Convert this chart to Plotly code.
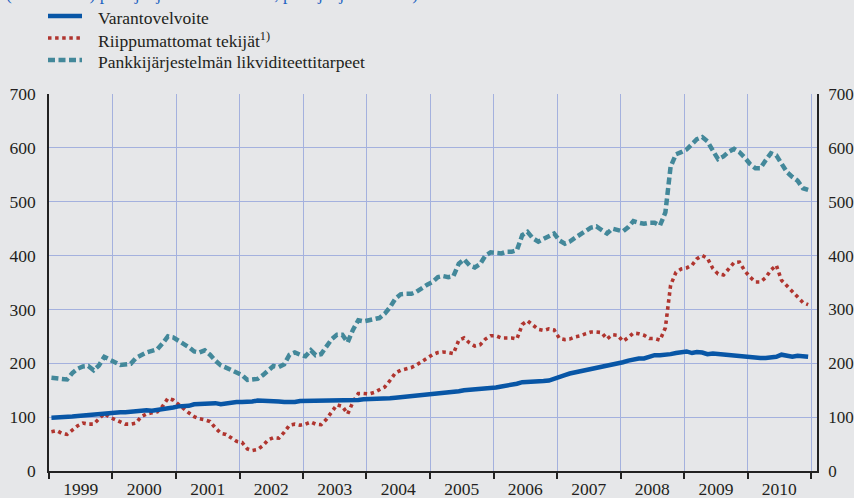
import pandas as pd
import plotly.graph_objects as go

# Monthly observations 1999-01 ... 2010-12 (EUR bn)
months = pd.date_range("1999-01-01", periods=144, freq="MS") + pd.Timedelta(days=14)

varantovelvoite = [
    99, 99, 100, 100, 101, 102, 103, 104, 104, 105, 106, 107,
    109, 109, 109, 110, 113, 114, 113, 112, 113, 114, 115, 118,
    120, 120, 121, 124, 125, 126, 127, 126, 124, 126, 127, 128,
    128, 128, 129, 131, 131, 130, 130, 129, 128, 127, 128, 130,
    130, 130, 130, 130, 130, 131, 131, 131, 132, 132, 132, 133,
    133, 133, 134, 135, 135, 136, 137, 138, 139, 139, 140, 141,
    141, 142, 143, 145, 146, 148, 150, 151, 151, 151, 152, 154,
    155, 157, 158, 160, 162, 165, 166, 167, 167, 167, 168, 172,
    175, 178, 181, 183, 185, 188, 190, 191, 193, 194, 197, 200,
    202, 205, 207, 209, 209, 212, 215, 215, 215, 217, 219, 221,
    222, 219, 221, 220, 217, 218, 217, 216, 214, 213, 212, 211,
    210, 210, 210, 210, 210, 212, 216, 213, 212, 214, 213, 212,
]

riippumattomat = [
    73, 75, 70, 68, 76, 84, 89, 87, 87, 96, 107, 100,
    96, 91, 87, 87, 89, 101, 106, 108, 110, 120, 135, 132,
    123, 116, 108, 101, 97, 95, 92, 80, 70, 68, 62, 55,
    53, 41, 38, 40, 47, 58, 62, 61, 72, 85, 87, 85,
    87, 91, 87, 86, 96, 110, 123, 120, 106, 128, 144, 144,
    143, 146, 150, 156, 168, 182, 187, 189, 192, 197, 204, 210,
    216, 220, 221, 220, 218, 243, 247, 238, 232, 234, 245, 251,
    251, 247, 247, 247, 245, 272, 279, 270, 263, 261, 264, 262,
    246, 244, 245, 249, 251, 255, 258, 258, 257, 245, 253, 252,
    241, 248, 256, 255, 252, 246, 246, 243, 266, 345, 369, 375,
    377, 382, 394, 400, 395, 376, 366, 364, 377, 387, 388, 372,
    360, 351, 351, 359, 373, 382, 354, 344, 333, 324, 313, 309,
]

likviditeettitarpeet = [
    173, 172, 170, 170, 182, 190, 194, 195, 187, 196, 212, 206,
    202, 197, 197, 199, 210, 216, 220, 223, 226, 237, 250, 248,
    242, 236, 230, 222, 220, 224, 216, 205, 196, 192, 188, 183,
    178, 169, 170, 171, 178, 188, 195, 193, 198, 216, 220, 216,
    213, 224, 215, 217, 230, 245, 253, 253, 239, 262, 280, 278,
    280, 282, 284, 292, 304, 320, 328, 329, 329, 333, 340, 346,
    351, 360, 362, 360, 362, 385, 393, 382, 378, 384, 400, 406,
    405, 404, 407, 407, 410, 438, 444, 432, 426, 430, 436, 441,
    428, 422, 426, 433, 440, 447, 452, 454, 448, 441, 450, 448,
    445, 453, 464, 461, 459, 461, 461, 456, 480, 565, 588, 592,
    597, 607, 616, 620, 612, 595, 579, 584, 593, 598, 592, 582,
    570, 562, 562, 577, 590, 586, 572, 555, 546, 539, 525, 522,
]

series_names = [
    "Varantovelvoite",
    "Riippumattomat tekijät<sup style='font-size:11px'>1)</sup>",
    "Pankkijärjestelmän likviditeettitarpeet",
]
y_ticks = [0, 100, 200, 300, 400, 500, 600, 700]

BLUE = "#0856a6"
RED = "#b0352f"
TEAL = "#43889a"
GRID = "#a4b1de"
BG = "#e6e7e9"
TXT = "#231f20"
FONT = "Liberation Serif"

DASH_BLUE = "solid"
DASH_RED = "3.5px,3.6px"
DASH_TEAL = "7px,3.5px"

fig = go.Figure()
fig.add_trace(go.Scatter(x=months, y=likviditeettitarpeet, mode="lines",
                         line=dict(color=TEAL, width=4.5, dash=DASH_TEAL),
                         showlegend=False, hoverinfo="skip"))
fig.add_trace(go.Scatter(x=months, y=riippumattomat, mode="lines",
                         line=dict(color=RED, width=3.6, dash=DASH_RED),
                         showlegend=False, hoverinfo="skip"))
fig.add_trace(go.Scatter(x=months, y=varantovelvoite, mode="lines",
                         line=dict(color=BLUE, width=4.5),
                         showlegend=False, hoverinfo="skip"))
# invisible trace to show the mirrored right axis
fig.add_trace(go.Scatter(x=months, y=varantovelvoite, mode="lines", yaxis="y2",
                         line=dict(width=0), opacity=0,
                         showlegend=False, hoverinfo="skip"))

L, R, T, B = 49, 37, 94, 27
W, H = 854, 498
pw, ph = W - L - R, H - T - B


def px(xp):
    return (xp - L) / pw


def py(yp):
    return (H - B - yp) / ph


legend_rows = [(series_names[0], BLUE, DASH_BLUE, 4.5, 16),
               (series_names[1], RED, DASH_RED, 3.6, 38),
               (series_names[2], TEAL, DASH_TEAL, 4.5, 60)]
shapes = []
annotations = []
for name, col, dash, w, yy in legend_rows:
    shapes.append(dict(type="line", xref="paper", yref="paper",
                       x0=px(48), x1=px(82), y0=py(yy), y1=py(yy),
                       line=dict(color=col, width=w, dash=dash)))
    annotations.append(dict(xref="paper", yref="paper", x=px(96), y=py(yy + 2),
                            xanchor="left", yanchor="middle", showarrow=False,
                            text=name, font=dict(family=FONT, size=17.5, color=TXT)))

annotations.append(dict(xref="paper", yref="paper", x=px(4), y=py(6),
                        xanchor="left", yanchor="bottom", showarrow=False,
                        text="(Mrd. euroa) pitoajanjakson keskiarvo, pitoajanjaksoittain)",
                        font=dict(family=FONT, size=17.5, color="#1d63c2")))

fig.update_layout(
    width=W, height=H,
    margin=dict(l=L, r=R, t=T, b=B, pad=0, autoexpand=False),
    paper_bgcolor=BG, plot_bgcolor=BG,
    font=dict(family=FONT, size=17.5, color=TXT),
    shapes=shapes, annotations=annotations,
    xaxis=dict(
        type="date",
        range=["1999-01-01", "2011-02-04"],
        tick0="1999-01-01", dtick="M12",
        tickformat="%Y", ticklabelmode="period",
        ticks="outside", ticklen=6, tickwidth=1.5, tickcolor="#222",
        ticklabelstandoff=-5,
        showgrid=True, gridcolor=GRID, gridwidth=1.2,
        showline=True, linecolor="#222", linewidth=1.5,
        zeroline=False, fixedrange=True, automargin=False,
        tickfont=dict(family=FONT, size=17.5, color=TXT),
    ),
    yaxis=dict(
        range=[0, 700], tickvals=y_ticks, ticktext=[str(v) for v in y_ticks],
        showgrid=True, gridcolor=GRID, gridwidth=1.2,
        showline=True, linecolor="#222", linewidth=1.5,
        ticks="", ticklabelstandoff=8, zeroline=False, automargin=False,
        fixedrange=True,
        tickfont=dict(family=FONT, size=17.5, color=TXT),
    ),
    yaxis2=dict(
        range=[0, 700], tickvals=y_ticks, ticktext=[str(v) for v in y_ticks],
        overlaying="y", side="right", showgrid=False,
        showline=True, linecolor="#222", linewidth=1.5,
        ticks="", ticklabelstandoff=6, zeroline=False, automargin=False,
        fixedrange=True,
        tickfont=dict(family=FONT, size=17, color=TXT),
    ),
)

fig.write_html(
    "out.html",
    config={"displayModeBar": False},
    post_script="document.body.style.margin='0';document.body.style.overflow='hidden';",
)
